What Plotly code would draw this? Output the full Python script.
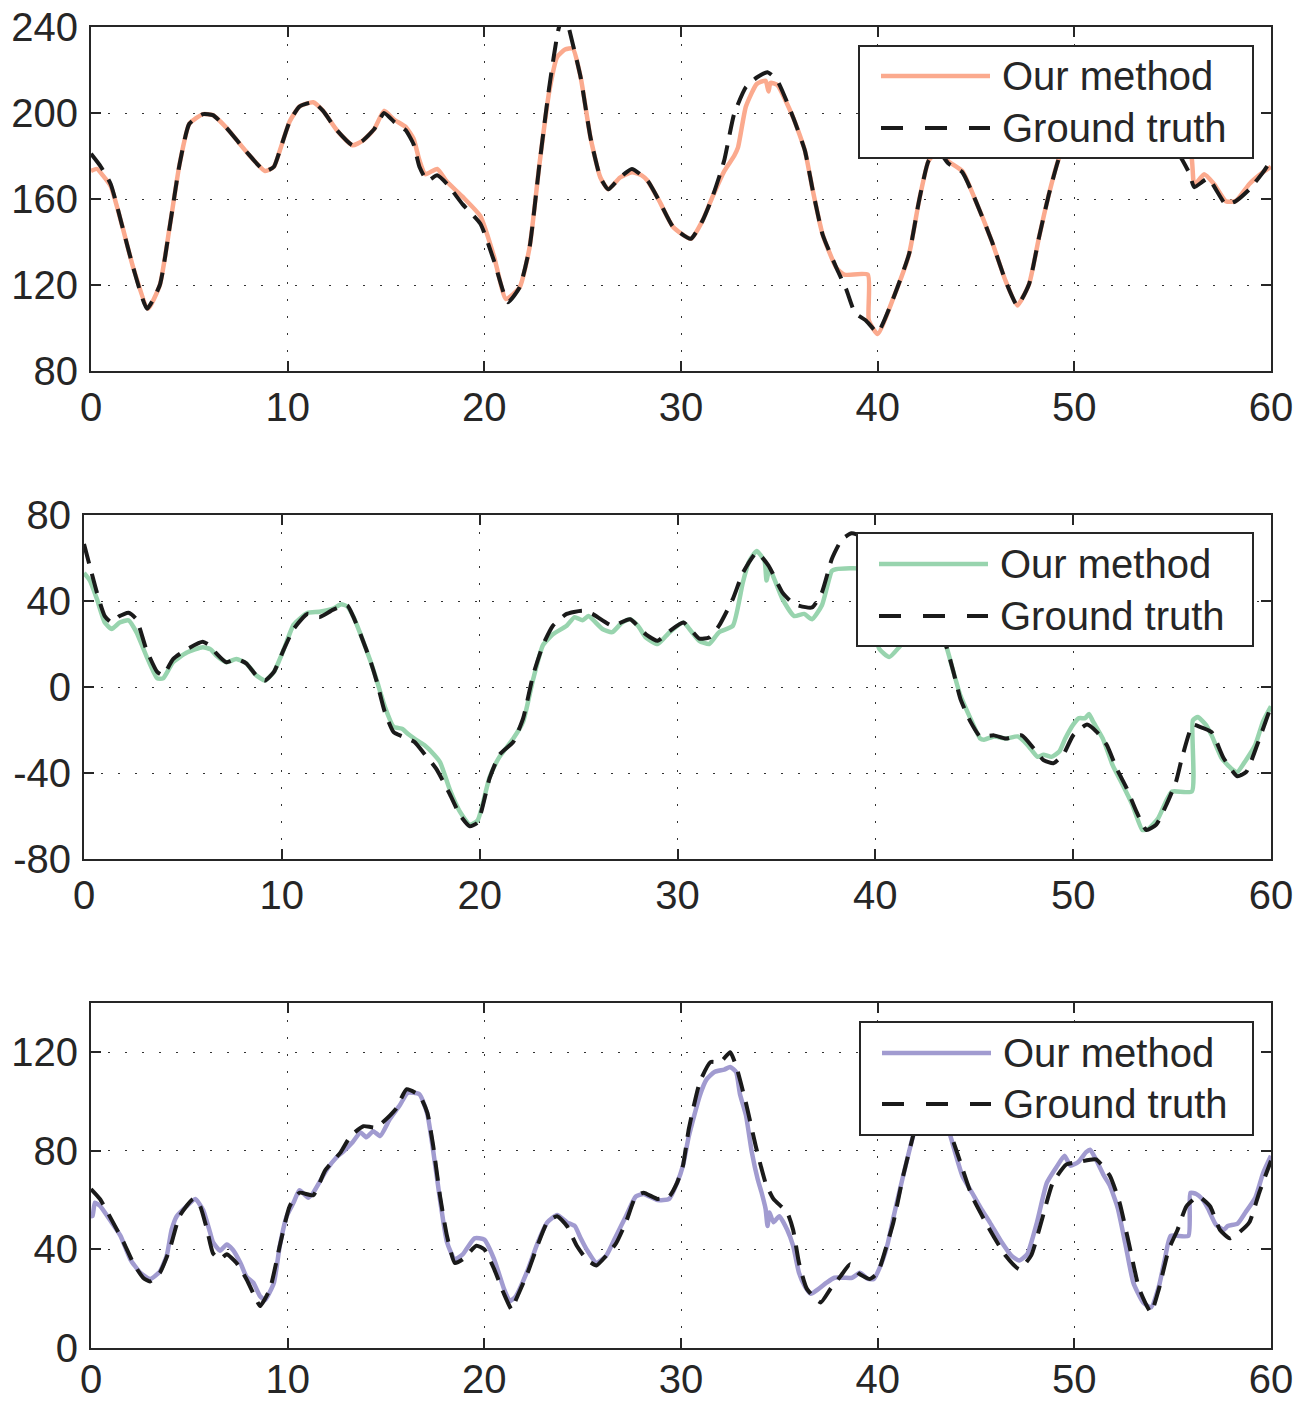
import plotly.graph_objects as go

# ---------------- data ----------------
# Panel 1
gt1_x = [0, 0.5, 1.0, 1.6, 2.15, 2.85, 3.5, 4.0, 4.5, 5.0, 5.7, 6.2, 6.9, 7.9, 8.85, 9.3, 9.6, 10.1, 10.6, 11.3,
         11.8, 12.5, 13.3, 13.8, 14.4, 14.9, 15.4, 16.0, 16.4, 16.7, 17.1, 17.6, 18.1, 18.9, 19.8, 20.5, 21.2, 21.8,
         22.3, 22.8, 23.3, 23.8, 24.1, 24.5, 24.9, 25.4, 25.9, 26.3, 26.9, 27.5, 28.3, 28.9, 29.6, 30.5, 31.1, 31.6,
         32.2, 32.7, 33.3, 33.85, 34.4, 34.9, 35.7, 36.3, 36.7, 37.2, 37.9, 38.4, 38.85, 39.4, 40.0, 40.8, 41.6,
         42.1, 42.6, 43.1, 43.6, 44.3, 44.9, 45.8, 46.5, 47.1, 47.7, 48.2, 48.7, 49.2, 49.8, 50.5, 51.5, 52.5, 53.5,
         54.5, 55.3, 55.85, 56.1, 56.8, 57.7, 58.2, 58.9, 59.6, 60]
gt1_y = [181, 175, 167, 147, 128, 109, 120, 147, 176, 195, 199.5, 199, 193, 182, 173, 175, 182.5, 196, 203, 205,
         201, 192, 185, 187, 192.5, 200, 196, 192, 185.5, 175, 168.5, 171, 167, 157.5, 148.5, 131, 112, 119,
         137.5, 176, 212, 240, 245, 232, 216.5, 188.5, 170, 164.5, 170, 174, 168.5, 159, 147, 141.5, 150, 161,
         178, 199.5, 212, 216.5, 219, 215, 198, 182.5, 164, 143.5, 128, 118, 107, 103.5, 98, 114, 134.5,
         159, 178, 182, 176.5, 172.5, 161, 140.5, 122, 110.5, 120.5, 142, 162, 178.5, 192, 199, 201, 195, 197,
         190, 181, 172, 165.5, 169.5, 157.5, 159, 164.5, 172.5, 178]
ours1_x = [0, 0.3, 0.6, 1.0, 1.6, 2.15, 2.9, 3.5, 4.0, 4.5, 5.0, 5.7, 6.2, 6.9, 7.9, 8.85, 9.3, 9.6, 10.1, 10.6,
           11.3, 11.8, 12.5, 13.3, 13.8, 14.4, 14.9, 15.4, 16.0, 16.4, 16.7, 17.0, 17.6, 18.1, 18.9, 19.8, 20.5,
           21.1, 21.8, 22.3, 22.8, 23.3, 23.7, 24.1, 24.5, 24.9, 25.4, 25.9, 26.3, 26.9, 27.5, 28.0, 28.3, 28.9,
           29.6, 30.5, 31.1, 31.6, 32.2, 32.7, 32.9, 33.3, 33.85, 34.3, 34.45, 34.55, 34.9, 35.7, 36.3, 36.7, 37.2,
           37.9, 38.3, 39.5, 39.55, 40.0, 40.8, 41.6, 42.1, 42.6, 43.1, 43.6, 44.3, 44.9, 45.8, 46.5, 47.1, 47.7,
           48.2, 48.7, 49.2, 49.8, 50.5, 51.5, 52.5, 53.5, 54.5, 55.5, 55.95, 56.1, 56.6, 57.1, 57.7, 58.2, 58.9,
           59.6, 60]
ours1_y = [173, 174, 171, 166, 147, 128, 109, 120, 147, 176, 195, 199.5, 199, 193, 182, 173, 175, 182.5, 196, 203,
           205, 201, 192, 185, 187, 192.5, 201, 197, 193.5, 188, 178, 171.5, 174, 168, 161, 152, 133,
           113.5, 119, 137.5, 176, 210, 226, 229.5, 230, 216.5, 188.5, 170, 164.5, 170, 172.5, 171, 168.5, 159,
           147, 141.5, 150, 161, 173, 180, 184, 203, 213.5, 215, 210, 214, 213, 198, 182.5, 164, 143.5,
           128, 124.8, 124.8, 103.5, 97.2, 114, 134.5, 159, 178, 182, 177.5, 173, 161, 140.5, 122, 110.5, 120.5,
           142, 162, 178.5, 190, 197, 199, 193, 195, 188, 186, 180, 166.5, 171.5, 167, 159, 159, 167,
           172.5, 175]

# Panel 2
gt2_x = [0, 0.3, 0.65, 1.05, 1.4, 1.8, 2.25, 2.65, 3.15, 3.7, 4.0, 4.5, 5.2, 6.0, 6.4, 6.7, 7.2, 7.7, 8.2, 8.7,
         9.15, 9.6, 10.1, 10.6, 11.3, 11.9, 12.6, 13.3, 13.6, 14.0, 14.5, 14.8, 15.2, 15.65, 16.1, 16.7, 17.2,
         17.8, 18.5, 19.0, 19.5, 19.9, 20.5, 21.0, 21.7, 22.2, 22.7, 23.2, 23.7, 24.4, 25.2, 25.7, 26.7, 27.6,
         28.4, 29.0, 29.6, 30.3, 31.1, 31.6, 32.1, 32.8, 33.3, 34.0, 34.6, 35.3, 35.9, 36.8, 37.3, 37.8, 38.3,
         38.8, 39.3, 40.0, 40.7, 41.5, 42.5, 43.2, 43.6, 43.95, 44.3, 44.8, 45.3, 46.0, 46.6, 47.4, 48.0, 48.5,
         49.0, 49.5, 50.0, 50.7, 51.2, 51.7, 52.2, 52.7, 53.2, 53.7, 54.2, 54.7, 55.2, 55.5, 56.05, 56.4, 57.0,
         57.6, 58.3, 58.75, 59.3, 60]
gt2_y = [66.5, 56, 44, 33, 30, 33, 34.5, 31.5, 17.5, 7, 5.5, 13, 17.5, 21, 19, 15.5, 11.5, 13, 11, 5.5,
         3, 7, 17.5, 27, 34, 32.5, 36, 38, 33, 24, 11.5, 2.5, -11.5, -21, -23, -25.5, -31,
         -38, -50, -59.5, -64.8, -63, -42.5, -31.5, -25.5, -14.5, 5.5, 19.5, 28.5, 34, 35.5, 34, 28.5, 31.5,
         24.5, 21.5, 26, 30, 22.5, 23, 28.5, 41, 53, 62.5, 56.5, 44, 38.5, 37, 44, 59.5, 68.5,
         71.5, 70, 56, 38, 30, 32, 27, 18.5, 7, -5.5, -16, -23, -22.5, -24, -22.5, -28.5, -34,
         -35.5, -31.5, -22.5, -17.5, -21, -27, -38, -47, -58, -66.5, -64, -55, -44, -33, -17.5, -18.5, -21,
         -33, -41.5, -39.5, -27, -9]
ours2_x = [0, 0.3, 0.65, 1.05, 1.4, 1.8, 2.25, 2.65, 3.15, 3.7, 4.0, 4.5, 5.2, 6.0, 6.4, 6.7, 7.2, 7.7, 8.2, 8.7,
           9.15, 9.6, 10.1, 10.6, 11.3, 11.9, 12.6, 13.0, 13.3, 13.6, 14.0, 14.5, 14.8, 15.2, 15.65, 16.1, 16.4,
           16.7, 17.2, 17.7, 18.0, 18.5, 19.0, 19.5, 19.9, 20.5, 21.0, 21.7, 22.2, 22.7, 23.2, 23.7, 24.4, 24.8,
           25.2, 25.5, 26.2, 26.7, 27.2, 27.6, 28.0, 28.4, 29.0, 29.6, 30.3, 30.6, 31.1, 31.6, 32.1, 32.8, 33.3,
           33.6, 34.0, 34.4, 34.5, 34.65, 35.3, 35.9, 36.4, 36.8, 37.3, 37.8, 38.0, 39.5, 39.9, 40.2, 40.7, 41.2,
           41.8, 42.5, 43.2, 43.6, 43.95, 44.3, 44.8, 45.3, 45.5, 46.0, 46.6, 47.2, 47.7, 48.2, 48.5, 48.9, 49.3,
           49.6, 50.0, 50.3, 50.6, 50.8, 51.0, 51.5, 52.0, 52.5, 53.0, 53.5, 53.8, 54.3, 54.7, 55.0, 56.0, 56.05,
           56.3, 56.7, 57.0, 57.5, 58.0, 58.3, 58.7, 59.2, 59.6, 60]
ours2_y = [53, 49.5, 41, 30, 27, 30, 31, 25.5, 14.5, 4, 4, 11.5, 16, 18.5, 17.5, 14.5, 11.5, 13, 11, 5.5,
           3, 7, 17.5, 29, 34.5, 35, 36.5, 38.5, 37.5, 33, 24, 11.5, 3, -9, -18.5, -19.5, -22,
           -24, -27, -31.5, -35, -48, -58, -64, -62, -42, -32.5, -24, -16, 3.5, 19.5, 24.5, 28.5, 32.5,
           31, 33, 27, 25.5, 30, 31.5, 28.5, 23, 20, 25.5, 30, 27, 21.5, 20, 25.5, 28.5, 48.5,
           58, 63.3, 58.5, 49.5, 55, 41, 33, 34, 31.5, 38, 54, 54.8, 54.5, 30, 17.7, 13.9, 18.5,
           26, 30, 27, 18.5, 7, -4, -14.5, -24, -24.5, -23, -24, -23, -27, -32.5, -31.5, -32.5, -30,
           -24, -17.5, -14.5, -14.5, -12.5, -16, -24, -36.5, -45.5, -55, -66.5, -66, -61, -53, -48.6, -48.6, -15.5,
           -14, -17.5, -22.5, -33, -38, -39.5, -34.5, -27, -16, -9]

# Panel 3
gt3_x = [0, 0.45, 1.05, 1.65, 2.15, 2.65, 3.0, 3.5, 4.0, 4.5, 5.2, 5.55, 5.9, 6.2, 6.55, 6.9, 7.4, 7.9, 8.4, 8.6,
         9.1, 9.6, 10.1, 10.6, 11.3, 11.9, 12.7, 13.2, 13.85, 14.5, 15.5, 16.05, 16.7, 17.1, 17.4, 17.75, 18.1,
         18.5, 18.9, 19.6, 20.0, 20.5, 20.97, 21.4, 21.6, 22.2, 22.7, 23.2, 23.7, 24.2, 24.7, 25.2, 25.7, 26.2,
         26.7, 27.2, 27.7, 28.1, 28.8, 29.4, 29.8, 30.1, 30.4, 30.96, 31.5, 32.0, 32.5, 32.8, 33.3, 33.8, 34.3,
         34.7, 35.4, 35.7, 36.0, 36.4, 37.1, 37.6, 38.1, 38.6, 39.0, 39.6, 40.0, 40.4, 40.8, 41.3, 41.8, 42.3,
         42.8, 43.3, 43.8, 44.2, 44.8, 45.7, 46.5, 47.2, 47.8, 48.4, 48.9, 49.6, 50.25, 51.1, 51.8, 52.3, 52.8,
         53.3, 53.9, 54.3, 54.8, 55.25, 55.7, 56.3, 56.9, 57.4, 57.9, 58.4, 58.9, 59.4, 60]
gt3_y = [64.5, 60.5, 52, 43, 34.5, 28.5, 27, 30.5, 40, 53.5, 60.5, 57.5, 48, 38.5, 36, 38, 34.5, 28, 19.7, 17,
         24, 41.5, 57.5, 63, 62, 72, 79.5, 86, 90, 89.5, 97, 105, 102.5, 95.5, 82, 61.5, 45.5,
         34.5, 36, 41.5, 40, 32, 22.5, 15.5, 19.5, 30.5, 41.5, 51, 53.5, 49.5, 41.5, 36, 33.5, 37.5,
         42.5, 51, 61.5, 63, 60.5, 61.5, 67, 74, 89, 108, 116, 116, 120, 114.5, 99.5, 82, 67,
         60.5, 55, 48, 34.5, 24, 18.5, 24, 29, 34, 30.5, 28, 30.5, 40, 51, 70, 86, 100,
         106, 100, 85, 75.5, 61.5, 48, 37.5, 32, 37.5, 53.5, 67, 74.5, 75.5, 76.5, 70, 59, 41.5,
         24, 14.5, 24, 40, 48, 57.5, 61.5, 57.5, 48, 44.5, 47, 51, 63, 76]
ours3_x = [0, 0.08, 0.2, 0.46, 1.05, 1.5, 2.0, 2.5, 3.0, 3.5, 3.85, 4.1, 4.36, 4.86, 5.3, 5.7, 6.05, 6.2, 6.56,
           6.9, 7.2, 7.6, 7.9, 8.25, 8.6, 8.85, 9.3, 9.6, 9.95, 10.3, 10.6, 11.05, 11.3, 12.0, 12.5, 12.8, 13.3,
           13.7, 14.0, 14.35, 14.7, 15.2, 15.7, 16.1, 16.7, 17.1, 17.4, 17.75, 18.1, 18.5, 18.9, 19.5, 20.0,
           20.5, 21.0, 21.3, 21.6, 22.2, 22.7, 23.2, 23.7, 24.2, 24.6, 24.9, 25.2, 25.7, 26.2, 26.7, 27.2, 27.7,
           28.1, 28.8, 29.4, 29.8, 30.1, 30.4, 30.96, 31.3, 31.7, 32.2, 32.5, 32.8, 33.0, 33.3, 33.6, 33.9, 34.1,
           34.3, 34.4, 34.5, 34.7, 35.0, 35.4, 35.7, 36.0, 36.3, 36.6, 37.0, 37.4, 37.8, 38.3, 38.7, 39.1, 39.5,
           39.8, 40.2, 40.5, 40.8, 41.3, 41.8, 42.3, 42.8, 43.3, 43.7, 44.3, 44.8, 45.3, 45.7, 46.3, 46.8, 47.2,
           47.6, 48.1, 48.6, 49.1, 49.5, 49.8, 50.2, 50.6, 50.8, 51.1, 51.5, 51.8, 52.2, 52.6, 53.0, 53.5, 53.9,
           54.3, 54.6, 54.9, 55.8, 55.9, 56.2, 56.5, 56.8, 57.2, 57.6, 57.8, 58.3, 58.7, 59.2, 59.6, 60]
ours3_y = [53.5, 53.6, 59, 57.7, 50.9, 45.5, 36, 30.6, 28, 31, 37.5, 48, 53.5, 57.5, 60.5, 56, 47, 43, 39.5,
           42, 40, 34.5, 29, 26.5, 21, 19.5, 26.5, 41.5, 53.5, 59, 64, 61, 63, 72.5, 77.5, 79.5, 83.5,
           87.5, 85.5, 88, 86, 93, 98.5, 103.5, 103, 95, 80, 60, 43, 36, 38, 44.5, 44,
           36, 24, 19, 21, 31.5, 42.5, 51, 54, 51, 49.5, 44.5, 40, 34.5, 37.5, 45.5, 53.5, 61.5,
           62.5, 60, 60.5, 67, 74, 86, 102.5, 109, 112, 113, 114, 112, 103, 94.5, 79.5, 68.5, 63,
           56.5, 49.5, 55, 51, 53.5, 48, 41.5, 30.5, 25, 22, 24, 26.5, 28.5, 28.5, 28.5, 30.5, 28,
           28, 34.5, 42, 53, 70, 86, 99, 104, 98, 86, 70, 63, 56, 51, 43, 37.5, 35.5,
           38, 51, 67, 73.5, 78, 74, 75.5, 79.5, 80.5, 76.5, 70, 66, 57, 42, 26.5, 18.5, 16.5,
           25, 36, 45.5, 45.5, 63, 62.5, 60.5, 56.5, 50, 48, 49.5, 50.5, 55, 61, 71, 78]

x_ticks = [0, 10, 20, 30, 40, 50, 60]
x_ticktext = ["0", "10", "20", "30", "40", "50", "60"]
y_ticks1 = [80, 120, 160, 200, 240]
y_ticktext1 = ["80", "120", "160", "200", "240"]
y_ticks2 = [-80, -40, 0, 40, 80]
y_ticktext2 = ["-80", "-40", "0", "40", "80"]
y_ticks3 = [0, 40, 80, 120]
y_ticktext3 = ["0", "40", "80", "120"]
series_names = ["Our method", "Ground truth"]
colors = ["#FBAA8E", "#98D4AE", "#A19BD0"]

# ---------------- figure ----------------
W, H = 1298, 1402
ML, MR, MT, MB = 84, 27, 27, 54
PW, PH = W - ML - MR, H - MT - MB


def px_x(p):
    return (p - ML) / PW


def px_y(p):
    return (H - MB - p) / PH


panels = [
    (gt1_x, gt1_y, ours1_x, ours1_y, (91, 1271), (27, 371), [80, 240], y_ticks1, y_ticktext1,
     (859, 1253, 46, 158, 76, 128), 0),
    (gt2_x, gt2_y, ours2_x, ours2_y, (84, 1271), (515, 859), [-80, 80], y_ticks2, y_ticktext2,
     (857, 1253, 533, 646, 564, 616), 0),
    (gt3_x, gt3_y, ours3_x, ours3_y, (91, 1271), (1003, 1348), [0, 140], y_ticks3, y_ticktext3,
     (860, 1253, 1022, 1135, 1053, 1104), -5),
]

FONT = "Liberation Sans, Arial, Helvetica, sans-serif"
TXT = "#262626"
GT_COLOR = "#1a1a1a"

fig = go.Figure()
layout = dict(
    template="none",
    width=W, height=H,
    margin=dict(l=ML, r=MR, t=MT, b=MB, autoexpand=False),
    paper_bgcolor="white", plot_bgcolor="white",
    font=dict(family=FONT, size=40, color=TXT),
    showlegend=False,
)
shapes = []
annotations = []

for i, (gx, gy, ox, oy, xr, yr, yrange, yt, ytt, lg, xstand) in enumerate(panels):
    n = "" if i == 0 else str(i + 1)
    fig.add_trace(go.Scatter(
        x=ox, y=oy, mode="lines", name=series_names[0],
        line=dict(color=colors[i], width=4.5, shape="spline", smoothing=0.5),
        xaxis="x" + n, yaxis="y" + n,
    ))
    fig.add_trace(go.Scatter(
        x=gx, y=gy, mode="lines", name=series_names[1],
        line=dict(color=GT_COLOR, width=4, dash="20px,11px", shape="spline", smoothing=0.5),
        xaxis="x" + n, yaxis="y" + n,
    ))
    common = dict(
        showline=True, linecolor=TXT, linewidth=2, mirror="ticks",
        ticks="inside", ticklen=10, tickwidth=2, tickcolor=TXT,
        showgrid=True, gridcolor="#333333", gridwidth=1.2, griddash="2px,15px",
        zeroline=False, automargin=False,
        tickfont=dict(family=FONT, size=40, color=TXT),
    )
    layout["xaxis" + n] = dict(
        domain=[px_x(xr[0]), px_x(xr[1])], range=[0, 60], tickmode="array",
        tickvals=x_ticks, ticktext=x_ticktext, anchor="y" + n, ticklabelstandoff=xstand, **common)
    layout["yaxis" + n] = dict(
        domain=[px_y(yr[1]), px_y(yr[0])], range=yrange, tickmode="array",
        tickvals=yt, ticktext=ytt, anchor="x" + n, ticklabelstandoff=3, **common)

    # legend box drawn above the curves
    lx0, lx1, ly0, ly1, row1, row2 = lg
    shapes.append(dict(type="rect", xref="paper", yref="paper", layer="above",
                       x0=px_x(lx0), x1=px_x(lx1), y0=px_y(ly1), y1=px_y(ly0),
                       fillcolor="white", line=dict(color=TXT, width=2)))
    shapes.append(dict(type="line", xref="paper", yref="paper", layer="above",
                       x0=px_x(lx0 + 22), x1=px_x(lx0 + 131), y0=px_y(row1), y1=px_y(row1),
                       line=dict(color=colors[i], width=4.5)))
    shapes.append(dict(type="line", xref="paper", yref="paper", layer="above",
                       x0=px_x(lx0 + 22), x1=px_x(lx0 + 131), y0=px_y(row2), y1=px_y(row2),
                       line=dict(color=GT_COLOR, width=4, dash="22px,22px")))
    for txt, row in zip(series_names, (row1, row2)):
        annotations.append(dict(text=txt, xref="paper", yref="paper", showarrow=False,
                                x=px_x(lx0 + 141), xanchor="left", y=px_y(row), yanchor="middle",
                                font=dict(family=FONT, size=40, color=TXT)))

layout["shapes"] = shapes
layout["annotations"] = annotations
fig.update_layout(**layout)
fig.write_html("out.html", config={"displayModeBar": False},
               post_script="document.body.style.margin='0px';document.body.style.overflow='hidden';")
